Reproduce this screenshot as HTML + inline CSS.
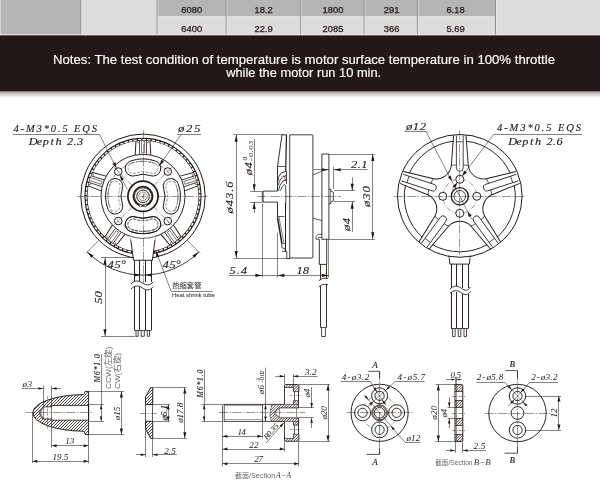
<!DOCTYPE html>
<html lang="en"><head><meta charset="utf-8"><title>Motor drawing</title>
<style>
html,body{margin:0;padding:0;background:#fff;}
body{width:600px;height:484px;overflow:hidden;position:relative;}
svg{position:absolute;left:0;top:0;display:block;will-change:transform;}
svg .ah{fill:#231815;stroke:none;}
svg text{stroke:none;fill:#231815;}
svg .d{font-family:"Liberation Serif",serif;font-style:italic;stroke:#231815;stroke-width:0.12px;}
svg .ds{stroke:none;}
svg .cg{font-family:"Liberation Sans","Noto Sans CJK SC",sans-serif;fill:#6a6766;}
svg .sb{font-family:"Liberation Sans",sans-serif;stroke:#231815;stroke-width:0.25px;}
svg .sw{font-family:"Liberation Sans",sans-serif;fill:#fff;stroke:#fff;stroke-width:0.15px;}
svg .dl{font-family:"Liberation Serif",serif;font-style:italic;fill:#3e3a39;}
svg .s{font-family:"Liberation Sans","Noto Sans CJK SC",sans-serif;}
svg .c{font-family:"Liberation Sans","Noto Sans CJK SC",sans-serif;fill:#3e3a39;stroke:#3e3a39;stroke-width:0.08px;}
</style></head><body>
<svg width="600" height="484" viewBox="0 0 600 484">
<defs>
<linearGradient id="shadow" x1="0" y1="0" x2="0" y2="1"><stop offset="0" stop-color="#8f8683"/><stop offset="0.35" stop-color="#c9c4c2"/><stop offset="1" stop-color="#ffffff"/></linearGradient>
<clipPath id="cnut"><path clip-rule="evenodd" d="M83.1 394.6 Q84.6 394.2 85.2 391.4 L88.6 391.4 L88.6 434.6 L85.2 434.6 Q84.6 431.6 83.1 431.2 A51.6 18.3 0 0 1 32.8 412.9 A51.6 18.3 0 0 1 83.1 394.6 Z M88.6 405.4 L51.8 405.4 L51.8 406.8 L43.2 406.8 Q39.6 409.8 39.6 412.9 Q39.6 416 43.2 419 L51.8 419 L51.8 420.2 L88.6 420.2 Z"/></clipPath>
<clipPath id="cwash"><path d="M150.6 387.6 L152.7 387.6 L152.7 404.5 L145.5 404.5 L145.5 397 Z M150.6 438.3 L152.7 438.3 L152.7 421.3 L145.5 421.3 L145.5 428.9 Z"/></clipPath>
<clipPath id="cadp"><path d="M284.5 385.7 Q284.5 384.5 285.7 384.5 L297.7 384.5 Q298.9 384.5 298.9 385.7 L298.9 387.4 L284.5 387.4 Z M293.5 387.4 L298.9 387.4 L298.9 391.6 L293.5 391.6 Z M293.5 400.7 L298.9 400.7 L298.9 404.4 L293.5 404.4 Z M284.5 440.1 Q284.5 441.3 285.7 441.3 L297.7 441.3 Q298.9 441.3 298.9 440.1 L298.9 438.4 L284.5 438.4 Z M293.5 438.4 L298.9 438.4 L298.9 434.2 L293.5 434.2 Z M293.5 425.1 L298.9 425.1 L298.9 421.4 L293.5 421.4 Z M271.5 404.4 L298.9 404.4 L298.9 407.9 L279.8 407.9 L274.4 412.9 L279.8 417.9 L298.9 417.9 L298.9 421.4 L271.5 421.4 Q269.2 416.9 270 412.9 Q270.8 408.9 271.5 404.4 Z"/></clipPath>
<clipPath id="csecb"><path d="M455 384.6 L462.8 384.6 L462.8 391.5 L455 391.5 Z M455 434.5 L462.8 434.5 L462.8 441.4 L455 441.4 Z M455 400.6 L462.8 400.6 L462.8 407.3 L455 407.3 Z M455 418.7 L462.8 418.7 L462.8 425.4 L455 425.4 Z"/></clipPath>
</defs>
<g fill="none" stroke="#231815" stroke-width="0.55">
<!-- header -->
<g stroke="none">
<rect x="0" y="0" width="600" height="36" fill="#dcdcdc"/>
<rect x="0" y="0" width="81" height="36" fill="#b5b5b6"/>
<rect x="157" y="0" width="338.5" height="16.7" fill="#b5b5b6"/>
<rect x="157" y="16.2" width="338.5" height="1" fill="#e6e6e6"/>
<rect x="80.4" y="0" width="1" height="36" fill="#8e8e8f"/>
<rect x="81.4" y="0" width="0.8" height="36" fill="#e9e9e9" fill-opacity="0.7"/>
<rect x="156.6" y="0" width="1" height="36" fill="#8e8e8f"/>
<rect x="157.6" y="0" width="0.8" height="36" fill="#e9e9e9" fill-opacity="0.7"/>
<rect x="225.7" y="0" width="1" height="36" fill="#8e8e8f"/>
<rect x="226.7" y="0" width="0.8" height="36" fill="#e9e9e9" fill-opacity="0.7"/>
<rect x="300.2" y="0" width="1" height="36" fill="#8e8e8f"/>
<rect x="301.2" y="0" width="0.8" height="36" fill="#e9e9e9" fill-opacity="0.7"/>
<rect x="363.6" y="0" width="1" height="36" fill="#8e8e8f"/>
<rect x="364.6" y="0" width="0.8" height="36" fill="#e9e9e9" fill-opacity="0.7"/>
<rect x="416.9" y="0" width="1" height="36" fill="#8e8e8f"/>
<rect x="417.9" y="0" width="0.8" height="36" fill="#e9e9e9" fill-opacity="0.7"/>
<rect x="495" y="0" width="1" height="36" fill="#8e8e8f"/>
<rect x="496" y="0" width="0.8" height="36" fill="#e9e9e9" fill-opacity="0.7"/>
<rect x="0" y="0" width="0.8" height="36" fill="#e0e0e0"/>
<rect x="0" y="34.3" width="600" height="1.2" fill="#ececec"/>
<rect x="0" y="91" width="600" height="7" fill="url(#shadow)"/>
<rect x="0" y="35.4" width="600" height="55.8" fill="#231815"/>
</g>
<text class="sb" x="191.7" y="13.3" font-size="9.4" text-anchor="middle">6080</text>
<text class="sb" x="263.7" y="13.3" font-size="9.4" text-anchor="middle">18.2</text>
<text class="sb" x="333" y="13.3" font-size="9.4" text-anchor="middle">1800</text>
<text class="sb" x="391.7" y="13.3" font-size="9.4" text-anchor="middle">291</text>
<text class="sb" x="455.5" y="13.3" font-size="9.4" text-anchor="middle">6.18</text>
<text class="sb" x="191.7" y="31.7" font-size="9.4" text-anchor="middle">6400</text>
<text class="sb" x="263.7" y="31.7" font-size="9.4" text-anchor="middle">22.9</text>
<text class="sb" x="333" y="31.7" font-size="9.4" text-anchor="middle">2085</text>
<text class="sb" x="391.7" y="31.7" font-size="9.4" text-anchor="middle">366</text>
<text class="sb" x="455.5" y="31.7" font-size="9.4" text-anchor="middle">5.69</text>
<text class="sw" x="304" y="63.6" font-size="12.5" textLength="502" lengthAdjust="spacingAndGlyphs" text-anchor="middle">Notes: The test condition of temperature is motor surface temperature in 100% throttle</text>
<text class="sw" x="303.7" y="77.1" font-size="12.5" textLength="155" lengthAdjust="spacingAndGlyphs" text-anchor="middle">while the motor run 10 min.</text>
<!-- front_view -->
<circle cx="143" cy="196.3" r="62.2" stroke-width="1"/>
<circle cx="143" cy="196.3" r="57" stroke-width="3.1"/>
<circle cx="143" cy="196.3" r="56.8" stroke="#fff" stroke-width="1.3" stroke-dasharray="3.4 1.2"/>
<circle cx="143" cy="196.3" r="42" stroke-width="0.95"/>
<g transform="translate(143 196.3) rotate(0)">
<line x1="-7.8" y1="-41.4" x2="-7" y2="-55.4" stroke-width="0.95"/>
<line x1="-3.5" y1="-42" x2="-3.5" y2="-55.8" stroke-width="0.75"/>
<line x1="-1.5" y1="-43.5" x2="-1.5" y2="-55.8"/>
<line x1="-5.5" y1="-55.8" x2="-5.5" y2="-53.6" stroke-width="0.5"/>
<line x1="7.8" y1="-41.4" x2="7" y2="-55.4" stroke-width="0.95"/>
<line x1="3.5" y1="-42" x2="3.5" y2="-55.8" stroke-width="0.75"/>
<line x1="1.5" y1="-43.5" x2="1.5" y2="-55.8"/>
<line x1="5.5" y1="-55.8" x2="5.5" y2="-53.6" stroke-width="0.5"/>
<line x1="-1.5" y1="-43.5" x2="1.5" y2="-43.5" stroke-width="0.5"/>
<line x1="-5.2" y1="-53.5" x2="-3.4" y2="-53.5" stroke-width="0.5"/>
<line x1="5.2" y1="-53.5" x2="3.4" y2="-53.5" stroke-width="0.5"/>
</g>
<g transform="translate(143 196.3) rotate(72)">
<line x1="-7.8" y1="-41.4" x2="-7" y2="-55.4" stroke-width="0.95"/>
<line x1="-3.5" y1="-42" x2="-3.5" y2="-55.8" stroke-width="0.75"/>
<line x1="-1.5" y1="-43.5" x2="-1.5" y2="-55.8"/>
<line x1="-5.5" y1="-55.8" x2="-5.5" y2="-53.6" stroke-width="0.5"/>
<line x1="7.8" y1="-41.4" x2="7" y2="-55.4" stroke-width="0.95"/>
<line x1="3.5" y1="-42" x2="3.5" y2="-55.8" stroke-width="0.75"/>
<line x1="1.5" y1="-43.5" x2="1.5" y2="-55.8"/>
<line x1="5.5" y1="-55.8" x2="5.5" y2="-53.6" stroke-width="0.5"/>
<line x1="-1.5" y1="-43.5" x2="1.5" y2="-43.5" stroke-width="0.5"/>
<line x1="-5.2" y1="-53.5" x2="-3.4" y2="-53.5" stroke-width="0.5"/>
<line x1="5.2" y1="-53.5" x2="3.4" y2="-53.5" stroke-width="0.5"/>
</g>
<g transform="translate(143 196.3) rotate(144)">
<line x1="-7.8" y1="-41.4" x2="-7" y2="-55.4" stroke-width="0.95"/>
<line x1="-3.5" y1="-42" x2="-3.5" y2="-55.8" stroke-width="0.75"/>
<line x1="-1.5" y1="-43.5" x2="-1.5" y2="-55.8"/>
<line x1="-5.5" y1="-55.8" x2="-5.5" y2="-53.6" stroke-width="0.5"/>
<line x1="7.8" y1="-41.4" x2="7" y2="-55.4" stroke-width="0.95"/>
<line x1="3.5" y1="-42" x2="3.5" y2="-55.8" stroke-width="0.75"/>
<line x1="1.5" y1="-43.5" x2="1.5" y2="-55.8"/>
<line x1="5.5" y1="-55.8" x2="5.5" y2="-53.6" stroke-width="0.5"/>
<line x1="-1.5" y1="-43.5" x2="1.5" y2="-43.5" stroke-width="0.5"/>
<line x1="-5.2" y1="-53.5" x2="-3.4" y2="-53.5" stroke-width="0.5"/>
<line x1="5.2" y1="-53.5" x2="3.4" y2="-53.5" stroke-width="0.5"/>
</g>
<g transform="translate(143 196.3) rotate(216)">
<line x1="-7.8" y1="-41.4" x2="-7" y2="-55.4" stroke-width="0.95"/>
<line x1="-3.5" y1="-42" x2="-3.5" y2="-55.8" stroke-width="0.75"/>
<line x1="-1.5" y1="-43.5" x2="-1.5" y2="-55.8"/>
<line x1="-5.5" y1="-55.8" x2="-5.5" y2="-53.6" stroke-width="0.5"/>
<line x1="7.8" y1="-41.4" x2="7" y2="-55.4" stroke-width="0.95"/>
<line x1="3.5" y1="-42" x2="3.5" y2="-55.8" stroke-width="0.75"/>
<line x1="1.5" y1="-43.5" x2="1.5" y2="-55.8"/>
<line x1="5.5" y1="-55.8" x2="5.5" y2="-53.6" stroke-width="0.5"/>
<line x1="-1.5" y1="-43.5" x2="1.5" y2="-43.5" stroke-width="0.5"/>
<line x1="-5.2" y1="-53.5" x2="-3.4" y2="-53.5" stroke-width="0.5"/>
<line x1="5.2" y1="-53.5" x2="3.4" y2="-53.5" stroke-width="0.5"/>
</g>
<g transform="translate(143 196.3) rotate(288)">
<line x1="-7.8" y1="-41.4" x2="-7" y2="-55.4" stroke-width="0.95"/>
<line x1="-3.5" y1="-42" x2="-3.5" y2="-55.8" stroke-width="0.75"/>
<line x1="-1.5" y1="-43.5" x2="-1.5" y2="-55.8"/>
<line x1="-5.5" y1="-55.8" x2="-5.5" y2="-53.6" stroke-width="0.5"/>
<line x1="7.8" y1="-41.4" x2="7" y2="-55.4" stroke-width="0.95"/>
<line x1="3.5" y1="-42" x2="3.5" y2="-55.8" stroke-width="0.75"/>
<line x1="1.5" y1="-43.5" x2="1.5" y2="-55.8"/>
<line x1="5.5" y1="-55.8" x2="5.5" y2="-53.6" stroke-width="0.5"/>
<line x1="-1.5" y1="-43.5" x2="1.5" y2="-43.5" stroke-width="0.5"/>
<line x1="-5.2" y1="-53.5" x2="-3.4" y2="-53.5" stroke-width="0.5"/>
<line x1="5.2" y1="-53.5" x2="3.4" y2="-53.5" stroke-width="0.5"/>
</g>
<path transform="translate(143 196.3) rotate(0)" d="M-12.67 -35.19A37.4 37.4 0 0 1 12.67 -35.19A7.7 7.7 0 0 1 7.45 -20.7A22 22 0 0 0 -7.45 -20.7A7.7 7.7 0 0 1 -12.67 -35.19Z" stroke-width="1"/>
<path transform="translate(143 196.3) rotate(0)" d="M-11.44 -33.08A35 35 0 0 1 11.44 -33.08A5.3 5.3 0 0 1 7.98 -23.06A24.4 24.4 0 0 0 -7.98 -23.06A5.3 5.3 0 0 1 -11.44 -33.08Z" stroke-width="0.45" stroke-dasharray="3 1.2"/>
<path transform="translate(143 196.3) rotate(90)" d="M-12.67 -35.19A37.4 37.4 0 0 1 12.67 -35.19A7.7 7.7 0 0 1 7.45 -20.7A22 22 0 0 0 -7.45 -20.7A7.7 7.7 0 0 1 -12.67 -35.19Z" stroke-width="1"/>
<path transform="translate(143 196.3) rotate(90)" d="M-11.44 -33.08A35 35 0 0 1 11.44 -33.08A5.3 5.3 0 0 1 7.98 -23.06A24.4 24.4 0 0 0 -7.98 -23.06A5.3 5.3 0 0 1 -11.44 -33.08Z" stroke-width="0.45" stroke-dasharray="3 1.2"/>
<path transform="translate(143 196.3) rotate(180)" d="M-12.67 -35.19A37.4 37.4 0 0 1 12.67 -35.19A7.7 7.7 0 0 1 7.45 -20.7A22 22 0 0 0 -7.45 -20.7A7.7 7.7 0 0 1 -12.67 -35.19Z" stroke-width="1"/>
<path transform="translate(143 196.3) rotate(180)" d="M-11.44 -33.08A35 35 0 0 1 11.44 -33.08A5.3 5.3 0 0 1 7.98 -23.06A24.4 24.4 0 0 0 -7.98 -23.06A5.3 5.3 0 0 1 -11.44 -33.08Z" stroke-width="0.45" stroke-dasharray="3 1.2"/>
<path transform="translate(143 196.3) rotate(270)" d="M-12.67 -35.19A37.4 37.4 0 0 1 12.67 -35.19A7.7 7.7 0 0 1 7.45 -20.7A22 22 0 0 0 -7.45 -20.7A7.7 7.7 0 0 1 -12.67 -35.19Z" stroke-width="1"/>
<path transform="translate(143 196.3) rotate(270)" d="M-11.44 -33.08A35 35 0 0 1 11.44 -33.08A5.3 5.3 0 0 1 7.98 -23.06A24.4 24.4 0 0 0 -7.98 -23.06A5.3 5.3 0 0 1 -11.44 -33.08Z" stroke-width="0.45" stroke-dasharray="3 1.2"/>
<circle cx="143" cy="196.3" r="35" stroke-width="0.45" stroke-dasharray="6 1.5 1 1.5"/>
<circle cx="167.75" cy="221.05" r="3.8" stroke-width="1" fill="#fff"/>
<line x1="166.45" y1="219.15" x2="169.05" y2="222.95" stroke-width="0.5"/>
<circle cx="118.25" cy="221.05" r="3.8" stroke-width="1" fill="#fff"/>
<line x1="116.95" y1="219.15" x2="119.55" y2="222.95" stroke-width="0.5"/>
<circle cx="118.25" cy="171.55" r="3.8" stroke-width="1" fill="#fff"/>
<line x1="116.95" y1="169.65" x2="119.55" y2="173.45" stroke-width="0.5"/>
<circle cx="167.75" cy="171.55" r="3.8" stroke-width="1" fill="#fff"/>
<line x1="166.45" y1="169.65" x2="169.05" y2="173.45" stroke-width="0.5"/>
<line x1="77" y1="196.5" x2="209" y2="196.5" stroke-width="0.45" stroke-dasharray="9 1.5 1.5 1.5"/>
<line x1="143.5" y1="130.3" x2="143.5" y2="262.3" stroke-width="0.45" stroke-dasharray="9 1.5 1.5 1.5"/>
<line x1="153.61" y1="206.91" x2="171.99" y2="225.29" stroke-width="0.45" stroke-dasharray="6 1.5 1 1.5"/>
<line x1="132.39" y1="206.91" x2="114.01" y2="225.29" stroke-width="0.45" stroke-dasharray="6 1.5 1 1.5"/>
<line x1="132.39" y1="185.69" x2="114.01" y2="167.31" stroke-width="0.45" stroke-dasharray="6 1.5 1 1.5"/>
<line x1="153.61" y1="185.69" x2="171.99" y2="167.31" stroke-width="0.45" stroke-dasharray="6 1.5 1 1.5"/>
<circle cx="143" cy="196.3" r="15.1" stroke-width="1.7" fill="#fff"/>
<circle cx="143" cy="196.3" r="9.3" stroke-width="2.4"/>
<circle cx="143" cy="196.3" r="8.5" stroke="#fff" stroke-width="0.7" stroke-dasharray="0.7 0.9"/>
<circle cx="143" cy="196.3" r="6.3" stroke-width="0.95"/>
<circle cx="143" cy="196.3" r="4.3" stroke-width="0.5"/>
<line x1="140" y1="196.5" x2="146" y2="196.5" stroke-width="0.4"/>
<line x1="143.5" y1="193.3" x2="143.5" y2="199.3" stroke-width="0.4"/>
<line x1="141.8" y1="198.5" x2="144.8" y2="193.7" stroke-width="0.5"/>
<circle cx="140.5" cy="205.7" r="1.25" fill="#fff"/>
<circle cx="145.5" cy="205.7" r="1.25" fill="#fff"/>
<polyline points="130.6,238.2 133.5,260.3 152.4,260.3 155.2,238.2" stroke-width="0.95" fill="#fff"/>
<rect x="130.6" y="234" width="24.6" height="6" fill="#fff" stroke="none"/>
<path d="M155.28 236.46A42 42 0 0 1 130.72 236.46" stroke-width="0.7"/>
<path transform="translate(143 196.3) rotate(180)" d="M-12.67 -35.19A37.4 37.4 0 0 1 12.67 -35.19A7.7 7.7 0 0 1 7.45 -20.7A22 22 0 0 0 -7.45 -20.7A7.7 7.7 0 0 1 -12.67 -35.19Z" stroke-width="1"/>
<path transform="translate(143 196.3) rotate(180)" d="M-11.54 -33.25A35.2 35.2 0 0 1 11.54 -33.25A5.5 5.5 0 0 1 7.93 -22.86A24.2 24.2 0 0 0 -7.93 -22.86A5.5 5.5 0 0 1 -11.54 -33.25Z" stroke-width="0.45" stroke-dasharray="3 1.2"/>
<line x1="143.5" y1="238" x2="143.5" y2="283" stroke-width="0.45" stroke-dasharray="9 1.5 1.5 1.5"/>
<!-- front_wires -->
<line x1="134.5" y1="260.3" x2="134.5" y2="282" stroke-width="0.95"/>
<line x1="134.5" y1="287" x2="134.5" y2="330.3" stroke-width="0.95"/>
<line x1="139.5" y1="260.3" x2="139.5" y2="282" stroke-width="0.95"/>
<line x1="139.5" y1="287" x2="139.5" y2="330.3" stroke-width="0.95"/>
<line x1="145.5" y1="260.3" x2="145.5" y2="282" stroke-width="0.95"/>
<line x1="145.5" y1="287" x2="145.5" y2="330.3" stroke-width="0.95"/>
<line x1="151.5" y1="260.3" x2="151.5" y2="282" stroke-width="0.95"/>
<line x1="151.5" y1="287" x2="151.5" y2="330.3" stroke-width="0.95"/>
<path d="M131 284 C134.5 280.2 138.5 280.2 142.5 283 S149.5 285.8 153.4 281.8 L153.4 286.8 C149.5 291.2 146.5 291.2 142.5 288 S134.5 285.2 131 289 Z" fill="#fff" stroke="none"/>
<path d="M131 284 C134.5 280.2 138.5 280.2 142.5 283 S149.5 285.8 153.4 281.8" stroke-width="0.85"/>
<path d="M131 289 C134.5 285.2 138.5 285.2 142.5 288 S149.5 290.8 153.4 286.8" stroke-width="0.85"/>
<line x1="134.5" y1="330.5" x2="139.7" y2="330.5" stroke-width="0.8"/>
<polyline points="136,330.3 136,336.3 138.2,336.3 138.2,330.3" stroke-width="0.8"/>
<line x1="139.7" y1="330.5" x2="145.8" y2="330.5" stroke-width="0.8"/>
<polyline points="141.2,330.3 141.2,336.3 144.3,336.3 144.3,330.3" stroke-width="0.8"/>
<line x1="145.8" y1="330.5" x2="151" y2="330.5" stroke-width="0.8"/>
<polyline points="147.3,330.3 147.3,336.3 149.5,336.3 149.5,330.3" stroke-width="0.8"/>
<!-- front_dims -->
<text class="d" x="13.5" y="131.6" font-size="10.5" textLength="83.5" lengthAdjust="spacing">4-M3*0.5 EQS</text>
<line x1="12.5" y1="134.5" x2="99.5" y2="134.5"/>
<text class="d" transform="translate(30 144.6) scale(1.2 1)" x="2.55 7.87 13.18 18.5 23.81 28.59 33.38 37.5 41.62" text-anchor="middle" font-size="10.2">Depth 2.3</text>
<line x1="99.5" y1="134.6" x2="116.44" y2="168.02"/>
<polygon class="ah" points="116.44,168.02 112.4,163.79 115.41,162.26"/>
<polygon class="ah" points="119.96,174.98 124,179.21 120.99,180.74"/>
<line x1="119.96" y1="174.98" x2="127.24" y2="189.34"/>
<text class="d" transform="translate(178 131.6) scale(1.2 1)" x="2.62 9.38 16.12" text-anchor="middle" font-size="10.5">ø25</text>
<line x1="177" y1="134.5" x2="201" y2="134.5"/>
<line x1="181" y1="134.6" x2="159.43" y2="165.4"/>
<polygon class="ah" points="159.43,165.4 161.26,159.84 164.03,161.78"/>
<path d="M198.72 252.02A78.8 78.8 0 0 1 87.28 252.02" stroke-width="0.85"/>
<line x1="187.19" y1="240.49" x2="200.13" y2="253.43"/>
<line x1="98.81" y1="240.49" x2="85.87" y2="253.43"/>
<polygon class="ah" points="198.72,252.02 194.56,257.87 192.47,255.54"/>
<polygon class="ah" points="87.28,252.02 93.53,255.54 91.44,257.87"/>
<polygon class="ah" points="140.6,275 134.6,276.5 134.6,273.5"/>
<polygon class="ah" points="145.4,275 151.4,273.5 151.4,276.5"/>
<text class="d" transform="translate(107.5 268.3) scale(1.2 1)" x="2.62 8.5 13.21" text-anchor="middle" font-size="10.5">45°</text>
<text class="d" transform="translate(162.5 268.3) scale(1.2 1)" x="2.62 8.5 13.21" text-anchor="middle" font-size="10.5">45°</text>
<line x1="101" y1="257.5" x2="134" y2="257.5"/>
<line x1="101" y1="336.5" x2="135.5" y2="336.5"/>
<line x1="105.5" y1="257.7" x2="105.5" y2="336.3"/>
<polygon class="ah" points="105,257.7 106.56,264.7 103.44,264.7"/>
<polygon class="ah" points="105,336.3 103.44,329.3 106.56,329.3"/>
<text class="d" transform="translate(102.3 297.5) rotate(-90) scale(1.2 1)" x="-2.58 2.58" text-anchor="middle" font-size="10.5">50</text>
<line x1="155.6" y1="250" x2="171" y2="291"/>
<line x1="171" y1="291.5" x2="212.6" y2="291.5"/>
<polygon class="ah" points="155.6,250 159.25,256.17 156.28,257.14"/>
<text class="c" x="172.2" y="288.3" font-size="7.2" textLength="29.3" lengthAdjust="spacingAndGlyphs">热缩套管</text>
<text class="c" x="172" y="297.3" font-size="5.9" textLength="42.8" lengthAdjust="spacingAndGlyphs">Heat shrink tube</text>
<!-- side_view -->
<path d="M289.7 134.8 L311.9 134.8 Q312.9 134.8 312.9 135.8 L312.9 257 Q312.9 258 311.9 258 L289.7 258 Z" stroke-width="0.85"/>
<polyline points="286.6,134.8 282,134.8 277.5,166.3 277.5,191" stroke-width="0.9"/>
<line x1="286.5" y1="134.8" x2="285.7" y2="171.4" stroke-width="1.2"/>
<line x1="277.5" y1="166.5" x2="285.6" y2="166.5" stroke-width="0.7"/>
<polyline points="286.3,171.4 281.4,172.8 278.2,177.6 278.2,181" stroke-width="0.85"/>
<polyline points="286.3,175.6 282.6,176.6 279.4,181.4 278.4,185" stroke-width="0.8"/>
<polyline points="286.3,175.6 284.8,176.2 284.8,179.2 286.3,179.8" stroke-width="0.7"/>
<polyline points="286.3,180 283,181 280,185.2 278.4,190.6" stroke-width="0.85"/>
<polyline points="280.2,190.8 282.6,186.2 284.6,184.4 285.6,186 286,196 285.6,210" stroke-width="0.8"/>
<line x1="286.5" y1="171.4" x2="286.5" y2="184" stroke-width="0.8"/>
<line x1="277.5" y1="202.2" x2="277.5" y2="217.3" stroke-width="0.9"/>
<line x1="277.5" y1="216.5" x2="284.4" y2="216.5" stroke-width="0.7"/>
<line x1="277.5" y1="217.3" x2="281.8" y2="243" stroke-width="1.5"/>
<line x1="279" y1="217" x2="283.8" y2="242.5"/>
<polyline points="281.8,243 281.8,247.6 285.4,249.2 285.4,251.3" stroke-width="0.8"/>
<polyline points="281.8,243.6 285.4,243.6" stroke-width="0.7"/>
<line x1="285.5" y1="203" x2="285.5" y2="251.3" stroke-width="1"/>
<polyline points="282,251.3 286.8,251.3 286.8,258" stroke-width="0.8"/>
<line x1="286.8" y1="258.5" x2="289.7" y2="258.5" stroke-width="0.8"/>
<polyline points="277.4,191.1 263.2,191.1 262.3,192 262.3,201.2 263.2,202.1 277.4,202.1" stroke-width="0.85" fill="#fff"/>
<line x1="263.5" y1="191.1" x2="263.5" y2="202.1" stroke-width="0.5"/>
<polygon points="321.9,154 328.9,154 328.9,239.3 321.9,239.3" stroke-width="0.85"/>
<polyline points="312.9,174.9 321.9,171.2" stroke-width="0.7"/>
<polyline points="312.9,218.2 321.9,220.7" stroke-width="0.7"/>
<polyline points="321.9,234.2 318.4,234.2 316,236.4 316,239.3 318.6,239.3 318.6,237.4 321.9,237.4" stroke-width="0.7"/>
<polyline points="328.9,189.2 330.8,189.2 330.8,191 333.4,192.2 333.4,200.8 330.8,202 330.8,203.8 328.9,203.8" stroke-width="0.8"/>
<line x1="330.5" y1="191" x2="330.5" y2="202" stroke-width="0.5"/>
<line x1="257" y1="196.5" x2="341" y2="196.5" stroke-width="0.45" stroke-dasharray="9 1.5 1.5 1.5"/>
<!-- side_wire -->
<polyline points="319.3,239.3 319.3,264.4 326.7,264.4 326.7,239.3" stroke-width="0.9"/>
<line x1="320.5" y1="264.4" x2="320.5" y2="279.6" stroke-width="0.9"/>
<line x1="326.5" y1="264.4" x2="326.5" y2="278.2" stroke-width="0.9"/>
<path d="M318.8 280.6Q322.4 277 328 278.4" stroke-width="0.85"/>
<path d="M318.8 286.8Q322.4 283.2 328 284.4" stroke-width="0.85"/>
<line x1="320.5" y1="286" x2="320.5" y2="327.5" stroke-width="0.9"/>
<line x1="326.5" y1="284.6" x2="326.5" y2="327.5" stroke-width="0.9"/>
<line x1="320.4" y1="327.5" x2="326.5" y2="327.5" stroke-width="0.7"/>
<polyline points="321.6,327.5 321.6,336.5 325.4,336.5 325.4,327.5" stroke-width="0.8"/>
<!-- side_dims -->
<line x1="233.5" y1="134.5" x2="282.5" y2="134.5"/>
<line x1="233.5" y1="258.5" x2="289.7" y2="258.5"/>
<line x1="236.5" y1="134.8" x2="236.5" y2="258"/>
<polygon class="ah" points="236.2,134.8 237.76,141.8 234.64,141.8"/>
<polygon class="ah" points="236.2,258 234.64,251 237.76,251"/>
<text class="d" transform="translate(233.4 197.5) rotate(-90) scale(1.2 1)" x="-10.71 -4.68 1.36 6.03 10.71" text-anchor="middle" font-size="10.5">ø43.6</text>
<line x1="250" y1="191.5" x2="262.4" y2="191.5"/>
<line x1="250" y1="202.5" x2="262.4" y2="202.5"/>
<line x1="254.5" y1="139.2" x2="254.5" y2="191.2"/>
<line x1="254.5" y1="202" x2="254.5" y2="213"/>
<polygon class="ah" points="254.2,191.2 252.64,184.2 255.76,184.2"/>
<polygon class="ah" points="254.2,202 255.76,209 252.64,209"/>
<text class="d" transform="translate(251.8 175.2) rotate(-90) scale(1.2 1)" x="2.62 8.21" text-anchor="middle" font-size="10.5">ø4</text>
<text class="d ds" font-size="7" transform="translate(247.2 160.6) rotate(-90)">0</text>
<text class="d ds" transform="translate(252.8 161.8) rotate(-90) scale(1.2 1)" x="1.75 5.69 8.75 11.81 15.75" text-anchor="middle" font-size="7">-0.03</text>
<line x1="313.5" y1="169.5" x2="328.9" y2="169.5"/>
<line x1="333.6" y1="169.5" x2="367.5" y2="169.5"/>
<polygon class="ah" points="328.9,169.8 321.9,171.36 321.9,168.24"/>
<polygon class="ah" points="333.6,169.8 340.6,168.24 340.6,171.36"/>
<line x1="333.5" y1="166.8" x2="333.5" y2="189"/>
<text class="d" transform="translate(351 168.4) scale(1.2 1)" x="2.62 6.88 11.12" text-anchor="middle" font-size="10.5">2.1</text>
<line x1="328.9" y1="154.5" x2="374.8" y2="154.5"/>
<line x1="328.9" y1="239.5" x2="374.8" y2="239.5"/>
<line x1="372.5" y1="154" x2="372.5" y2="239.3"/>
<polygon class="ah" points="372.8,154 374.36,161 371.24,161"/>
<polygon class="ah" points="372.8,239.3 371.24,232.3 374.36,232.3"/>
<text class="d" transform="translate(370.2 196.6) rotate(-90) scale(1.2 1)" x="-6.12 0 6.12" text-anchor="middle" font-size="10.5">ø30</text>
<line x1="334" y1="190.5" x2="355" y2="190.5"/>
<line x1="334" y1="201.5" x2="355" y2="201.5"/>
<line x1="352.5" y1="177.3" x2="352.5" y2="190.8"/>
<line x1="352.5" y1="201.8" x2="352.5" y2="231.8"/>
<polygon class="ah" points="352.2,190.8 350.64,183.8 353.76,183.8"/>
<polygon class="ah" points="352.2,201.8 353.76,208.8 350.64,208.8"/>
<text class="d" transform="translate(349.6 224.5) rotate(-90) scale(1.2 1)" x="-2.79 2.79" text-anchor="middle" font-size="10.5">ø4</text>
<line x1="262.5" y1="203.6" x2="262.5" y2="277.6"/>
<line x1="277.5" y1="232.6" x2="277.5" y2="277.6"/>
<line x1="328.5" y1="239.4" x2="328.5" y2="277.6" stroke-width="0.5"/>
<line x1="228.5" y1="275.5" x2="262.4" y2="275.5"/>
<polygon class="ah" points="262.4,275.4 255.4,276.96 255.4,273.84"/>
<line x1="262.4" y1="275.5" x2="277.4" y2="275.5"/>
<line x1="277.4" y1="275.5" x2="328.9" y2="275.5"/>
<polygon class="ah" points="277.4,275.4 284.4,273.84 284.4,276.96"/>
<polygon class="ah" points="328.9,275.4 321.9,276.96 321.9,273.84"/>
<text class="d" transform="translate(229.5 274) scale(1.2 1)" x="2.62 7.29 11.96" text-anchor="middle" font-size="10.5">5.4</text>
<text class="d" transform="translate(296.5 274) scale(1.2 1)" x="2.62 7.79" text-anchor="middle" font-size="10.5">18</text>
<!-- back_view -->
<ellipse cx="459.8" cy="195.9" rx="62.3" ry="61.4" stroke-width="1"/>
<path d="M466 141.15A55.5 55.5 0 0 1 510.34 173.36" stroke-width="0.95"/>
<path d="M514.17 185.15A55.5 55.5 0 0 1 497.23 237.28" stroke-width="0.95"/>
<path d="M487.2 244.56A55.5 55.5 0 0 1 432.4 244.56" stroke-width="0.95"/>
<path d="M422.37 237.28A55.5 55.5 0 0 1 405.43 185.15" stroke-width="0.95"/>
<path d="M409.26 173.36A55.5 55.5 0 0 1 453.6 141.15" stroke-width="0.95"/>
<g transform="translate(459.8 196.3) rotate(0)">
<line x1="-8.5" y1="-30.5" x2="-6.2" y2="-60.99" stroke-width="0.95"/>
<line x1="8.5" y1="-30.5" x2="6.2" y2="-60.99" stroke-width="0.95"/>
<path d="M-3.4 -60.6L-3.4 -28.4A3.4 3.4 0 0 0 3.4 -28.4L3.4 -60.6" stroke-width="0.8"/>
<line x1="-3.4" y1="-54.5" x2="3.4" y2="-54.5" stroke-width="0.7"/>
<path d="M-8.5 -30.5Q-6 -31.6 -3.4 -31.3" stroke-width="0.7"/>
<path d="M8.5 -30.5Q6 -31.6 3.4 -31.3" stroke-width="0.7"/>
<path d="M8.5 -30.5A15.4 15.4 0 0 0 26.38 -17.51" stroke-width="0.95"/>
</g>
<g transform="translate(459.8 196.3) rotate(72)">
<line x1="-8.5" y1="-30.5" x2="-6.2" y2="-60.99" stroke-width="0.95"/>
<line x1="8.5" y1="-30.5" x2="6.2" y2="-60.99" stroke-width="0.95"/>
<path d="M-3.4 -60.6L-3.4 -28.4A3.4 3.4 0 0 0 3.4 -28.4L3.4 -60.6" stroke-width="0.8"/>
<line x1="-3.4" y1="-54.5" x2="3.4" y2="-54.5" stroke-width="0.7"/>
<path d="M-8.5 -30.5Q-6 -31.6 -3.4 -31.3" stroke-width="0.7"/>
<path d="M8.5 -30.5Q6 -31.6 3.4 -31.3" stroke-width="0.7"/>
<path d="M8.5 -30.5A15.4 15.4 0 0 0 26.38 -17.51" stroke-width="0.95"/>
</g>
<g transform="translate(459.8 196.3) rotate(144)">
<line x1="-8.5" y1="-30.5" x2="-6.2" y2="-60.99" stroke-width="0.95"/>
<line x1="8.5" y1="-30.5" x2="6.2" y2="-60.99" stroke-width="0.95"/>
<path d="M-3.4 -60.6L-3.4 -28.4A3.4 3.4 0 0 0 3.4 -28.4L3.4 -60.6" stroke-width="0.8"/>
<line x1="-3.4" y1="-54.5" x2="3.4" y2="-54.5" stroke-width="0.7"/>
<path d="M-8.5 -30.5Q-6 -31.6 -3.4 -31.3" stroke-width="0.7"/>
<path d="M8.5 -30.5Q6 -31.6 3.4 -31.3" stroke-width="0.7"/>
<path d="M8.5 -30.5A15.4 15.4 0 0 0 26.38 -17.51" stroke-width="0.95"/>
</g>
<g transform="translate(459.8 196.3) rotate(216)">
<line x1="-8.5" y1="-30.5" x2="-6.2" y2="-60.99" stroke-width="0.95"/>
<line x1="8.5" y1="-30.5" x2="6.2" y2="-60.99" stroke-width="0.95"/>
<path d="M-3.4 -60.6L-3.4 -28.4A3.4 3.4 0 0 0 3.4 -28.4L3.4 -60.6" stroke-width="0.8"/>
<line x1="-3.4" y1="-54.5" x2="3.4" y2="-54.5" stroke-width="0.7"/>
<path d="M-8.5 -30.5Q-6 -31.6 -3.4 -31.3" stroke-width="0.7"/>
<path d="M8.5 -30.5Q6 -31.6 3.4 -31.3" stroke-width="0.7"/>
<path d="M8.5 -30.5A15.4 15.4 0 0 0 26.38 -17.51" stroke-width="0.95"/>
</g>
<g transform="translate(459.8 196.3) rotate(288)">
<line x1="-8.5" y1="-30.5" x2="-6.2" y2="-60.99" stroke-width="0.95"/>
<line x1="8.5" y1="-30.5" x2="6.2" y2="-60.99" stroke-width="0.95"/>
<path d="M-3.4 -60.6L-3.4 -28.4A3.4 3.4 0 0 0 3.4 -28.4L3.4 -60.6" stroke-width="0.8"/>
<line x1="-3.4" y1="-54.5" x2="3.4" y2="-54.5" stroke-width="0.7"/>
<path d="M-8.5 -30.5Q-6 -31.6 -3.4 -31.3" stroke-width="0.7"/>
<path d="M8.5 -30.5Q6 -31.6 3.4 -31.3" stroke-width="0.7"/>
<path d="M8.5 -30.5A15.4 15.4 0 0 0 26.38 -17.51" stroke-width="0.95"/>
</g>
<circle cx="459.8" cy="196.3" r="17" stroke-width="0.45" stroke-dasharray="5 1.5 1 1.5"/>
<circle cx="476.8" cy="196.3" r="4" stroke-width="0.95" fill="#fff"/>
<circle cx="459.8" cy="213.3" r="4" stroke-width="0.95" fill="#fff"/>
<circle cx="442.8" cy="196.3" r="4" stroke-width="0.95" fill="#fff"/>
<circle cx="459.8" cy="179.3" r="4" stroke-width="0.95" fill="#fff"/>
<circle cx="459.8" cy="196.3" r="8.6" stroke-width="1.3" fill="#fff"/>
<circle cx="459.8" cy="196.3" r="5.8" stroke-width="0.8"/>
<line x1="458.3" y1="192.8" x2="462.3" y2="200.8" stroke-width="0.4"/>
<line x1="393.8" y1="196.5" x2="525.8" y2="196.5" stroke-width="0.45" stroke-dasharray="9 1.5 1.5 1.5"/>
<line x1="459.5" y1="130.3" x2="459.5" y2="258.3" stroke-width="0.45" stroke-dasharray="9 1.5 1.5 1.5"/>
<!-- back_wires -->
<path d="M449.2 257.2L449.8 264.1L469.4 264.1L470 257.2" fill="#fff" stroke-width="0.95"/>
<rect x="449.7" y="255" width="19.8" height="3.4" fill="#fff" stroke="none"/>
<path d="M471.52 256.17A61.4 61.4 0 0 1 448.08 256.17" stroke-width="1"/>
<line x1="451.5" y1="264.1" x2="451.5" y2="288" stroke-width="0.95"/>
<line x1="451.5" y1="292" x2="451.5" y2="328.6" stroke-width="0.95"/>
<line x1="456.5" y1="264.1" x2="456.5" y2="288" stroke-width="0.95"/>
<line x1="456.5" y1="292" x2="456.5" y2="328.6" stroke-width="0.95"/>
<line x1="462.5" y1="264.1" x2="462.5" y2="288" stroke-width="0.95"/>
<line x1="462.5" y1="292" x2="462.5" y2="328.6" stroke-width="0.95"/>
<line x1="468.5" y1="264.1" x2="468.5" y2="288" stroke-width="0.95"/>
<line x1="468.5" y1="292" x2="468.5" y2="328.6" stroke-width="0.95"/>
<path d="M449.8 289.2 C453.3 285.4 457.3 285.4 461.3 288.2 S467.3 291 470.6 287 L470.6 291.4 C467.3 295.8 465.3 295.8 461.3 292.6 S453.3 289.8 449.8 293.6 Z" fill="#fff" stroke="none"/>
<path d="M449.8 289.2 C453.3 285.4 457.3 285.4 461.3 288.2 S467.3 291 470.6 287" stroke-width="0.85"/>
<path d="M449.8 293.6 C453.3 289.8 457.3 289.8 461.3 292.6 S467.3 295.4 470.6 291.4" stroke-width="0.85"/>
<line x1="451" y1="328.5" x2="456.7" y2="328.5" stroke-width="0.8"/>
<polyline points="452.6,328.6 452.6,336.6 455.1,336.6 455.1,328.6" stroke-width="0.8"/>
<line x1="456.7" y1="328.5" x2="462.4" y2="328.5" stroke-width="0.8"/>
<polyline points="458.3,328.6 458.3,336.6 460.8,336.6 460.8,328.6" stroke-width="0.8"/>
<line x1="462.4" y1="328.5" x2="468.1" y2="328.5" stroke-width="0.8"/>
<polyline points="464,328.6 464,336.6 466.5,336.6 466.5,328.6" stroke-width="0.8"/>
<!-- back_dims -->
<text class="d" transform="translate(406 129.7) scale(1.2 1)" x="2.62 8.33 14.04" text-anchor="middle" font-size="10.5">ø12</text>
<line x1="404.5" y1="131.5" x2="426" y2="131.5"/>
<line x1="426" y1="131.4" x2="451.95" y2="181.22"/>
<polygon class="ah" points="451.95,181.22 447.86,177.03 450.86,175.48"/>
<line x1="451.95" y1="181.22" x2="467.65" y2="211.38" stroke-width="0.45"/>
<polygon class="ah" points="467.65,211.38 471.74,215.57 468.74,217.12"/>
<line x1="467.65" y1="211.38" x2="471.81" y2="219.36"/>
<text class="d" x="497" y="131.2" font-size="10.5" textLength="84" lengthAdjust="spacing">4-M3*0.5 EQS</text>
<line x1="494" y1="134.5" x2="582" y2="134.5"/>
<text class="d" transform="translate(509.5 144.6) scale(1.2 1)" x="2.55 7.87 13.18 18.5 23.81 28.59 33.38 37.5 41.62" text-anchor="middle" font-size="10.2">Depth 2.6</text>
<line x1="494" y1="134" x2="462.21" y2="176.11"/>
<polygon class="ah" points="462.21,176.11 464.24,170.62 466.93,172.66"/>
<polygon class="ah" points="457.39,182.49 455.36,187.98 452.67,185.94"/>
<line x1="457.39" y1="182.49" x2="451.97" y2="189.68"/>
<!-- nut -->
<g clip-path="url(#cnut)" stroke-width="0.8">
<path d="M-16 436L30 390M-13 436L33 390M-10 436L36 390M-7 436L39 390M-4 436L42 390M-1 436L45 390M2 436L48 390M5 436L51 390M8 436L54 390M11 436L57 390M14 436L60 390M17 436L63 390M20 436L66 390M23 436L69 390M26 436L72 390M29 436L75 390M32 436L78 390M35 436L81 390M38 436L84 390M41 436L87 390M44 436L90 390M47 436L93 390M50 436L96 390M53 436L99 390M56 436L102 390M59 436L105 390M62 436L108 390M65 436L111 390M68 436L114 390M71 436L117 390M74 436L120 390M77 436L123 390M80 436L126 390M83 436L129 390M86 436L132 390M89 436L135 390"/>
</g>
<path d="M83.1 394.6 Q84.6 394.2 85.2 391.4 L88.6 391.4 L88.6 434.6 L85.2 434.6 Q84.6 431.6 83.1 431.2 A51.6 18.3 0 0 1 32.8 412.9 A51.6 18.3 0 0 1 83.1 394.6 Z" stroke-width="0.95"/>
<path d="M88.6 405.4 L51.8 405.4 L51.8 406.8 L43.2 406.8 Q39.6 409.8 39.6 412.9 Q39.6 416 43.2 419 L51.8 419 L51.8 420.2 L88.6 420.2 Z" stroke-width="0.85"/>
<polyline points="43.2,406.8 40.6,412.9 43.2,419"/>
<line x1="43.5" y1="406.8" x2="43.5" y2="419" stroke-width="0.5"/>
<line x1="51.5" y1="405.4" x2="51.5" y2="420.2"/>
<line x1="47.5" y1="396" x2="47.5" y2="430" stroke-width="0.4" stroke-dasharray="3 1.2"/>
<line x1="25.8" y1="412.5" x2="93.8" y2="412.5" stroke-width="0.45" stroke-dasharray="9 1.5 1.5 1.5"/>
<!-- nut_dims -->
<text class="d ds" transform="translate(22.6 387.3) scale(1.2 1)" x="1.9 5.93" text-anchor="middle" font-size="7.6">ø3</text>
<line x1="43.5" y1="385.4" x2="43.5" y2="406.8" stroke-width="0.55"/>
<line x1="51.5" y1="385.4" x2="51.5" y2="405.4" stroke-width="0.55"/>
<line x1="21.5" y1="388.5" x2="43.2" y2="388.5"/>
<line x1="51.8" y1="388.5" x2="61" y2="388.5"/>
<polygon class="ah" points="43.2,388.6 38.4,389.85 38.4,387.35"/>
<polygon class="ah" points="51.8,388.6 56.6,387.35 56.6,389.85"/>
<line x1="51.5" y1="420.2" x2="51.5" y2="447.6" stroke-width="0.55"/>
<line x1="88.5" y1="434.6" x2="88.5" y2="463.2" stroke-width="0.55"/>
<line x1="51.8" y1="445.5" x2="88.5" y2="445.5"/>
<polygon class="ah" points="51.8,445.8 56.6,444.24 56.6,447.36"/>
<polygon class="ah" points="88.5,445.8 83.7,447.36 83.7,444.24"/>
<text class="d ds" transform="translate(65.2 444.4) scale(1.2 1)" x="1.9 5.6" text-anchor="middle" font-size="7.6">13</text>
<line x1="32.5" y1="413" x2="32.5" y2="463.2" stroke-width="0.55"/>
<line x1="32.6" y1="461.5" x2="88.5" y2="461.5"/>
<polygon class="ah" points="32.6,461.2 37.4,459.64 37.4,462.76"/>
<polygon class="ah" points="88.5,461.2 83.7,462.76 83.7,459.64"/>
<text class="d ds" transform="translate(52.5 459.8) scale(1.2 1)" x="1.9 5.57 8.42 11.27" text-anchor="middle" font-size="7.6">19.5</text>
<line x1="88.6" y1="404.5" x2="103.9" y2="404.5" stroke-width="0.55"/>
<line x1="88.6" y1="421.5" x2="103.9" y2="421.5" stroke-width="0.55"/>
<line x1="101.5" y1="354.2" x2="101.5" y2="421.3"/>
<polygon class="ah" points="101.1,404.4 102.35,409.2 99.85,409.2"/>
<polygon class="ah" points="101.1,421.3 99.85,416.5 102.35,416.5"/>
<text class="d" font-size="7.6" textLength="28" lengthAdjust="spacing" transform="translate(99.5 382.3) rotate(-90)">M6*1.0</text>
<text class="cg" font-size="8" textLength="42.2" lengthAdjust="spacingAndGlyphs" transform="translate(111.4 389) rotate(-90)">CCW(左旋)</text>
<text class="cg" font-size="8" textLength="36" lengthAdjust="spacingAndGlyphs" transform="translate(120.4 389) rotate(-90)">CW(右旋)</text>
<line x1="88.1" y1="391.5" x2="124.1" y2="391.5" stroke-width="0.55"/>
<line x1="88.1" y1="434.5" x2="124.1" y2="434.5" stroke-width="0.55"/>
<line x1="121.5" y1="391.6" x2="121.5" y2="434.6"/>
<polygon class="ah" points="121.4,391.6 122.96,397.6 119.84,397.6"/>
<polygon class="ah" points="121.4,434.6 119.84,428.6 122.96,428.6"/>
<text class="d ds" transform="translate(120 413.5) rotate(-90) scale(1.2 1)" x="-3.77 0 3.77" text-anchor="middle" font-size="7.6">ø15</text>
<!-- washer -->
<g clip-path="url(#cwash)" stroke-width="0.8">
<path d="M90 440L144 386M93 440L147 386M96 440L150 386M99 440L153 386M102 440L156 386M105 440L159 386M108 440L162 386M111 440L165 386M114 440L168 386M117 440L171 386M120 440L174 386M123 440L177 386M126 440L180 386M129 440L183 386M132 440L186 386M135 440L189 386M138 440L192 386M141 440L195 386M144 440L198 386M147 440L201 386M150 440L204 386M153 440L207 386"/>
</g>
<path d="M150.6 387.6 L152.7 387.6 L152.7 404.5 L145.5 404.5 L145.5 397 Z" stroke-width="0.95"/>
<path d="M150.6 438.3 L152.7 438.3 L152.7 421.3 L145.5 421.3 L145.5 428.9 Z" stroke-width="0.95"/>
<line x1="145.5" y1="404.5" x2="145.5" y2="421.3" stroke-width="0.7"/>
<line x1="152.5" y1="404.5" x2="152.5" y2="421.3" stroke-width="0.7"/>
<line x1="140.3" y1="413.5" x2="158.2" y2="413.5" stroke-width="0.45" stroke-dasharray="6 1.5 1.5 1.5"/>
<!-- washer_dims -->
<line x1="152.7" y1="404.5" x2="170" y2="404.5" stroke-width="0.55"/>
<line x1="152.7" y1="421.5" x2="170" y2="421.5" stroke-width="0.55"/>
<line x1="168.5" y1="404.5" x2="168.5" y2="421.3"/>
<polygon class="ah" points="168.2,404.5 169.76,409.3 166.64,409.3"/>
<polygon class="ah" points="168.2,421.3 166.64,416.5 169.76,416.5"/>
<text class="d" transform="translate(167 412.8) rotate(-90) scale(1.2 1)" x="-4.56 -0.98 1.79 4.56" text-anchor="middle" font-size="7.6">ø6.1</text>
<line x1="152.7" y1="387.5" x2="186.6" y2="387.5" stroke-width="0.55"/>
<line x1="152.7" y1="438.5" x2="186.6" y2="438.5" stroke-width="0.55"/>
<line x1="184.5" y1="387.6" x2="184.5" y2="438.3"/>
<polygon class="ah" points="184.8,387.6 186.36,393.6 183.24,393.6"/>
<polygon class="ah" points="184.8,438.3 183.24,432.3 186.36,432.3"/>
<text class="d ds" transform="translate(183.2 412.8) rotate(-90) scale(1.2 1)" x="-6.43 -2.81 0.82 3.62 6.43" text-anchor="middle" font-size="7.6">ø17.8</text>
<line x1="145.5" y1="428.9" x2="145.5" y2="457" stroke-width="0.55"/>
<line x1="152.5" y1="438.3" x2="152.5" y2="457" stroke-width="0.55"/>
<line x1="136" y1="454.5" x2="145.5" y2="454.5"/>
<line x1="152.7" y1="454.5" x2="176.8" y2="454.5"/>
<polygon class="ah" points="145.5,454.8 140.7,456.05 140.7,453.55"/>
<polygon class="ah" points="152.7,454.8 157.5,453.55 157.5,456.05"/>
<text class="d ds" transform="translate(164.2 453.6) scale(1.2 1)" x="1.9 4.83 7.77" text-anchor="middle" font-size="7.6">2.5</text>
<!-- adapter -->
<polyline points="284.5,404.4 223.7,404.4 222.7,405.5 222.7,420.3 223.7,421.4 284.5,421.4" stroke-width="0.85"/>
<line x1="224.5" y1="404.4" x2="224.5" y2="421.4" stroke-width="0.5"/>
<line x1="262.5" y1="404.4" x2="262.5" y2="421.4" stroke-width="0.7"/>
<line x1="224.4" y1="405.5" x2="262.2" y2="405.5" stroke-width="0.4"/>
<line x1="224.4" y1="419.5" x2="262.2" y2="419.5" stroke-width="0.4"/>
<g clip-path="url(#cadp)" stroke-width="0.8">
<path d="M200 443L260 383M202.7 443L262.7 383M205.4 443L265.4 383M208.1 443L268.1 383M210.8 443L270.8 383M213.5 443L273.5 383M216.2 443L276.2 383M218.9 443L278.9 383M221.6 443L281.6 383M224.3 443L284.3 383M227 443L287 383M229.7 443L289.7 383M232.4 443L292.4 383M235.1 443L295.1 383M237.8 443L297.8 383M240.5 443L300.5 383M243.2 443L303.2 383M245.9 443L305.9 383M248.6 443L308.6 383M251.3 443L311.3 383M254 443L314 383M256.7 443L316.7 383M259.4 443L319.4 383M262.1 443L322.1 383M264.8 443L324.8 383M267.5 443L327.5 383M270.2 443L330.2 383M272.9 443L332.9 383M275.6 443L335.6 383M278.3 443L338.3 383M281 443L341 383M283.7 443L343.7 383M286.4 443L346.4 383M289.1 443L349.1 383M291.8 443L351.8 383M294.5 443L354.5 383M297.2 443L357.2 383M299.9 443L359.9 383"/>
</g>
<path d="M284.5 404.4 L284.5 385.7 Q284.5 384.5 285.7 384.5 L297.7 384.5 Q298.9 384.5 298.9 385.7 L298.9 391.6" stroke-width="0.85"/>
<line x1="298.5" y1="391.6" x2="298.5" y2="407.9" stroke-width="0.85"/>
<line x1="294.5" y1="391.6" x2="294.5" y2="400.7" stroke-width="0.7"/>
<polyline points="284.5,387.4 293.5,387.4 293.5,391.6 298.9,391.6" stroke-width="0.7"/>
<polyline points="298.9,400.7 293.5,400.7 293.5,404.4" stroke-width="0.7"/>
<line x1="284.5" y1="404.5" x2="298.9" y2="404.5"/>
<line x1="289.5" y1="395.5" x2="302" y2="395.5" stroke-width="0.4" stroke-dasharray="3 1 1 1"/>
<path d="M284.5 421.4 L284.5 440.1 Q284.5 441.3 285.7 441.3 L297.7 441.3 Q298.9 441.3 298.9 440.1 L298.9 434.2" stroke-width="0.85"/>
<line x1="298.5" y1="434.2" x2="298.5" y2="417.9" stroke-width="0.85"/>
<line x1="294.5" y1="434.2" x2="294.5" y2="425.1" stroke-width="0.7"/>
<polyline points="284.5,438.4 293.5,438.4 293.5,434.2 298.9,434.2" stroke-width="0.7"/>
<polyline points="298.9,425.1 293.5,425.1 293.5,421.4" stroke-width="0.7"/>
<line x1="284.5" y1="421.5" x2="298.9" y2="421.5"/>
<line x1="289.5" y1="429.5" x2="302" y2="429.5" stroke-width="0.4" stroke-dasharray="3 1 1 1"/>
<polyline points="298.9,407.9 279.8,407.9 274.4,412.9 279.8,417.9 298.9,417.9" stroke-width="0.75"/>
<line x1="279.5" y1="407.9" x2="279.5" y2="417.9" stroke-width="0.45"/>
<line x1="296.5" y1="407.9" x2="296.5" y2="417.9" stroke-width="0.5"/>
<path d="M271.5 421.4 Q269.2 416.9 270 412.9 Q270.8 408.9 271.5 404.4" stroke-width="0.5"/>
<line x1="219" y1="412.5" x2="305" y2="412.5" stroke-width="0.45" stroke-dasharray="9 1.5 1.5 1.5"/>
<!-- adapter_dims -->
<line x1="201.7" y1="404.5" x2="222.7" y2="404.5" stroke-width="0.55"/>
<line x1="201.7" y1="421.5" x2="222.7" y2="421.5" stroke-width="0.55"/>
<line x1="204.5" y1="369.7" x2="204.5" y2="421.4"/>
<polygon class="ah" points="204.1,404.4 205.35,409.2 202.85,409.2"/>
<polygon class="ah" points="204.1,421.4 202.85,416.6 205.35,416.6"/>
<text class="d" font-size="7.6" textLength="27.6" lengthAdjust="spacing" transform="translate(202.6 397.4) rotate(-90)">M6*1.0</text>
<line x1="265.5" y1="367.7" x2="265.5" y2="421.4"/>
<polygon class="ah" points="265.5,404.4 266.75,409.2 264.25,409.2"/>
<polygon class="ah" points="265.5,421.4 264.25,416.6 266.75,416.6"/>
<text class="d ds" transform="translate(263.9 394.2) rotate(-90) scale(1.2 1)" x="1.9 5.77" text-anchor="middle" font-size="7.6">ø6</text>
<text class="d ds" font-size="5.4" transform="translate(259.6 380.6) rotate(-90)">0</text>
<text class="d ds" transform="translate(263.8 383.2) rotate(-90) scale(1.2 1)" x="1.35 3.59 5.33 7.07 9.32" text-anchor="middle" font-size="5.4">-0.02</text>
<line x1="284.5" y1="374" x2="284.5" y2="384.4" stroke-width="0.55"/>
<line x1="293.5" y1="374" x2="293.5" y2="388" stroke-width="0.55"/>
<line x1="275.3" y1="376.5" x2="284.6" y2="376.5"/>
<line x1="293.3" y1="376.5" x2="317.6" y2="376.5"/>
<polygon class="ah" points="284.6,376.2 279.8,377.45 279.8,374.95"/>
<polygon class="ah" points="293.3,376.2 298.1,374.95 298.1,377.45"/>
<text class="d ds" transform="translate(305 375) scale(1.2 1)" x="1.9 4.79 7.68" text-anchor="middle" font-size="7.6">3.2</text>
<line x1="298.9" y1="407.5" x2="313.9" y2="407.5" stroke-width="0.55"/>
<line x1="298.9" y1="417.5" x2="313.9" y2="417.5" stroke-width="0.55"/>
<line x1="311.5" y1="387" x2="311.5" y2="407.9"/>
<polygon class="ah" points="311.6,407.9 310.35,403.1 312.85,403.1"/>
<polygon class="ah" points="311.6,417.9 312.85,422.7 310.35,422.7"/>
<line x1="311.5" y1="417.9" x2="311.5" y2="428"/>
<text class="d ds" transform="translate(310.4 397.6) rotate(-90) scale(1.2 1)" x="1.9 5.43" text-anchor="middle" font-size="7.6">ø4</text>
<line x1="298.9" y1="384.5" x2="329.8" y2="384.5" stroke-width="0.55"/>
<line x1="298.9" y1="441.5" x2="329.8" y2="441.5" stroke-width="0.55"/>
<line x1="328.5" y1="384.4" x2="328.5" y2="441.4"/>
<polygon class="ah" points="328,384.4 329.56,390.4 326.44,390.4"/>
<polygon class="ah" points="328,441.4 326.44,435.4 329.56,435.4"/>
<text class="d ds" transform="translate(326.6 412.9) rotate(-90) scale(1.2 1)" x="-3.6 0 3.6" text-anchor="middle" font-size="7.6">ø20</text>
<line x1="222.5" y1="421.4" x2="222.5" y2="466.5" stroke-width="0.55"/>
<line x1="262.5" y1="421.4" x2="262.5" y2="438.5" stroke-width="0.55"/>
<line x1="284.5" y1="441.4" x2="284.5" y2="451.5" stroke-width="0.55"/>
<line x1="298.5" y1="441.4" x2="298.5" y2="466.5" stroke-width="0.55"/>
<line x1="222.6" y1="436.5" x2="262.2" y2="436.5"/>
<polygon class="ah" points="222.6,436.3 227.4,434.74 227.4,437.86"/>
<polygon class="ah" points="262.2,436.3 257.4,437.86 257.4,434.74"/>
<text class="d ds" transform="translate(237.5 434.5) scale(1.2 1)" x="1.9 5.02" text-anchor="middle" font-size="7.6">14</text>
<line x1="222.6" y1="449.5" x2="284.6" y2="449.5"/>
<polygon class="ah" points="222.6,449 227.4,447.44 227.4,450.56"/>
<polygon class="ah" points="284.6,449 279.8,450.56 279.8,447.44"/>
<text class="d ds" transform="translate(249.2 447.5) scale(1.2 1)" x="1.9 5.85" text-anchor="middle" font-size="7.6">22</text>
<line x1="222.6" y1="463.5" x2="298.9" y2="463.5"/>
<polygon class="ah" points="222.6,463.8 227.4,462.24 227.4,465.36"/>
<polygon class="ah" points="298.9,463.8 294.1,465.36 294.1,462.24"/>
<text class="d ds" transform="translate(254.3 462.3) scale(1.2 1)" x="1.9 5.35" text-anchor="middle" font-size="7.6">27</text>
<line x1="266" y1="443.2" x2="283.4" y2="423.2"/>
<polygon class="ah" points="283.8,422.7 281.59,427.14 279.71,425.5"/>
<text class="d ds" transform="translate(267 440) rotate(-49) scale(1.2 1)" x="1.9 5.17 7.71 10.24 13.52" text-anchor="middle" font-size="7.6">R0.35</text>
<text class="cg" y="478"><tspan x="235" font-size="6.5" textLength="14" lengthAdjust="spacingAndGlyphs">截面</tspan><tspan x="249" font-size="7.8" textLength="26.2" lengthAdjust="spacingAndGlyphs">/Section</tspan></text>
<text class="dl" x="275.8" y="478.2" font-size="8" textLength="15.4" lengthAdjust="spacingAndGlyphs">A−A</text>
<!-- adfront -->
<circle cx="379.6" cy="412.8" r="28.6" stroke-width="0.95"/>
<circle cx="379.6" cy="412.8" r="17" stroke-width="0.45" stroke-dasharray="4 1.2 1 1.2"/>
<circle cx="396.6" cy="412.8" r="8" stroke-width="0.95" fill="#fff"/>
<circle cx="396.6" cy="412.8" r="4.6" stroke-width="0.9"/>
<circle cx="379.6" cy="429.8" r="8" stroke-width="0.95" fill="#fff"/>
<circle cx="379.6" cy="429.8" r="4.6" stroke-width="0.9"/>
<circle cx="362.6" cy="412.8" r="8" stroke-width="0.95" fill="#fff"/>
<circle cx="362.6" cy="412.8" r="4.6" stroke-width="0.9"/>
<circle cx="379.6" cy="395.8" r="8" stroke-width="0.95" fill="#fff"/>
<circle cx="379.6" cy="395.8" r="4.6" stroke-width="0.9"/>
<circle cx="379.6" cy="412.8" r="7.9" stroke-width="0.8" fill="#fff"/>
<circle cx="379.6" cy="412.8" r="6.9" stroke-width="0.8"/>
<circle cx="379.6" cy="412.8" r="5.3" stroke-width="0.9"/>
<line x1="346.6" y1="412.5" x2="412.6" y2="412.5" stroke-width="0.45" stroke-dasharray="9 1.5 1.5 1.5"/>
<line x1="379.5" y1="371.2" x2="379.5" y2="454.4" stroke-width="0.5" stroke-dasharray="9 1.5 1.5 1.5"/>
<polyline points="368.3,371.3 379.6,371.3 379.6,378.3" stroke-width="0.75"/>
<polyline points="366.6,454.4 379.6,454.4 379.6,448" stroke-width="0.75"/>
<text class="d" x="372.2" y="367.6" font-size="9">A</text>
<text class="d" x="372.2" y="464.6" font-size="9">A</text>
<!-- adfront_dims -->
<text class="d ds" transform="translate(341.7 379.8) scale(1.2 1)" x="1.9 6.1 10.3 14.5 17.76 21.02" text-anchor="middle" font-size="7.6">4-ø3.2</text>
<line x1="340.6" y1="381.5" x2="370" y2="381.5"/>
<line x1="370" y1="381.4" x2="377.05" y2="391.97"/>
<polygon class="ah" points="377.05,391.97 373.35,388.67 375.43,387.29"/>
<line x1="377.05" y1="391.97" x2="382.15" y2="399.63" stroke-width="0.45"/>
<polygon class="ah" points="382.15,399.63 385.85,402.93 383.77,404.31"/>
<line x1="382.15" y1="399.63" x2="386.03" y2="405.45"/>
<text class="d ds" transform="translate(397.5 379.8) scale(1.2 1)" x="1.9 6.1 10.3 14.5 17.76 21.02" text-anchor="middle" font-size="7.6">4-ø5.7</text>
<line x1="395.4" y1="381.5" x2="424.6" y2="381.5"/>
<line x1="395.4" y1="381.4" x2="385.59" y2="390.34"/>
<polygon class="ah" points="385.59,390.34 388.29,386.19 389.98,388.03"/>
<line x1="385.59" y1="390.34" x2="373.61" y2="401.26" stroke-width="0.45"/>
<polygon class="ah" points="373.61,401.26 370.91,405.41 369.22,403.57"/>
<line x1="373.61" y1="401.26" x2="368.44" y2="405.97"/>
<text class="d ds" transform="translate(406.4 440.8) scale(1.2 1)" x="1.9 5.83 9.77" text-anchor="middle" font-size="7.6">ø12</text>
<line x1="405" y1="442.5" x2="420.4" y2="442.5"/>
<line x1="405" y1="442.3" x2="390.69" y2="425.68"/>
<polygon class="ah" points="390.69,425.68 394.77,428.5 392.88,430.14"/>
<line x1="390.69" y1="425.68" x2="368.51" y2="399.92" stroke-width="0.45"/>
<polygon class="ah" points="368.51,399.92 364.43,397.1 366.32,395.46"/>
<line x1="368.51" y1="399.92" x2="363.94" y2="394.61"/>
<!-- secb -->
<g clip-path="url(#csecb)" stroke-width="0.8">
<path d="M394 442L453 383M396.7 442L455.7 383M399.4 442L458.4 383M402.1 442L461.1 383M404.8 442L463.8 383M407.5 442L466.5 383M410.2 442L469.2 383M412.9 442L471.9 383M415.6 442L474.6 383M418.3 442L477.3 383M421 442L480 383M423.7 442L482.7 383M426.4 442L485.4 383M429.1 442L488.1 383M431.8 442L490.8 383M434.5 442L493.5 383M437.2 442L496.2 383M439.9 442L498.9 383M442.6 442L501.6 383M445.3 442L504.3 383M448 442L507 383M450.7 442L509.7 383M453.4 442L512.4 383M456.1 442L515.1 383M458.8 442L517.8 383M461.5 442L520.5 383"/>
</g>
<path d="M455 384.6 L461.6 384.6 Q462.8 384.6 462.8 385.8 L462.8 440.2 Q462.8 441.4 461.6 441.4 L455 441.4 Z" stroke-width="0.95"/>
<line x1="455" y1="391.5" x2="462.8" y2="391.5" stroke-width="0.75"/>
<line x1="455" y1="434.5" x2="462.8" y2="434.5" stroke-width="0.75"/>
<line x1="455" y1="400.5" x2="462.8" y2="400.5" stroke-width="0.75"/>
<line x1="455" y1="407.5" x2="462.8" y2="407.5" stroke-width="0.75"/>
<line x1="455" y1="418.5" x2="462.8" y2="418.5" stroke-width="0.75"/>
<line x1="455" y1="425.5" x2="462.8" y2="425.5" stroke-width="0.75"/>
<line x1="456.5" y1="384.6" x2="456.5" y2="441.4" stroke-width="0.45"/>
<line x1="452" y1="396.5" x2="466" y2="396.5" stroke-width="0.45" stroke-dasharray="4 1 1 1"/>
<line x1="452" y1="413.5" x2="466" y2="413.5" stroke-width="0.45" stroke-dasharray="4 1 1 1"/>
<line x1="452" y1="430.5" x2="466" y2="430.5" stroke-width="0.45" stroke-dasharray="4 1 1 1"/>
<!-- secb_dims -->
<text class="d ds" transform="translate(450.4 378.3) scale(1.2 1)" x="1.9 4.46 7.02" text-anchor="middle" font-size="7.6">0.5</text>
<line x1="446.2" y1="379.5" x2="455" y2="379.5"/>
<line x1="456.3" y1="379.5" x2="462" y2="379.5"/>
<polygon class="ah" points="455,379.6 451.4,380.48 451.4,378.73"/>
<polygon class="ah" points="456.3,379.6 459.9,378.73 459.9,380.48"/>
<line x1="455.5" y1="377.4" x2="455.5" y2="384.6" stroke-width="0.5"/>
<line x1="456.5" y1="377.4" x2="456.5" y2="384.6" stroke-width="0.5"/>
<line x1="435.5" y1="384.5" x2="455" y2="384.5" stroke-width="0.55"/>
<line x1="435.5" y1="441.5" x2="455" y2="441.5" stroke-width="0.55"/>
<line x1="438.5" y1="384.6" x2="438.5" y2="441.4"/>
<polygon class="ah" points="438.3,384.6 439.86,390.6 436.74,390.6"/>
<polygon class="ah" points="438.3,441.4 436.74,435.4 439.86,435.4"/>
<text class="d ds" transform="translate(437 412.7) rotate(-90) scale(1.2 1)" x="-3.93 0 3.93" text-anchor="middle" font-size="7.6">ø20</text>
<line x1="447.6" y1="407.5" x2="455" y2="407.5" stroke-width="0.55"/>
<line x1="447.6" y1="418.5" x2="455" y2="418.5" stroke-width="0.55"/>
<line x1="449.5" y1="397.3" x2="449.5" y2="407.3"/>
<polygon class="ah" points="449.2,407.3 447.95,402.5 450.45,402.5"/>
<polygon class="ah" points="449.2,418.7 450.45,423.5 447.95,423.5"/>
<line x1="449.5" y1="418.7" x2="449.5" y2="428"/>
<text class="d ds" transform="translate(447.4 413.2) rotate(-90) scale(1.2 1)" x="-1.6 1.6" text-anchor="middle" font-size="7.6">ø4</text>
<line x1="455.5" y1="441.4" x2="455.5" y2="453" stroke-width="0.55"/>
<line x1="462.5" y1="441.4" x2="462.5" y2="453" stroke-width="0.55"/>
<line x1="446" y1="450.5" x2="455" y2="450.5"/>
<line x1="462.8" y1="450.5" x2="486" y2="450.5"/>
<polygon class="ah" points="455,450.6 450.2,451.85 450.2,449.35"/>
<polygon class="ah" points="462.8,450.6 467.6,449.35 467.6,451.85"/>
<text class="d ds" transform="translate(473.6 449.4) scale(1.2 1)" x="1.9 4.83 7.77" text-anchor="middle" font-size="7.6">2.5</text>
<text class="cg" y="464.6"><tspan x="435.3" font-size="6.5" textLength="13.1" lengthAdjust="spacingAndGlyphs">截面</tspan><tspan x="448.4" font-size="7.8" textLength="24.2" lengthAdjust="spacingAndGlyphs">/Section</tspan></text>
<text class="dl" x="473.8" y="464.8" font-size="8.2" textLength="17" lengthAdjust="spacingAndGlyphs">B−B</text>
<!-- bfront -->
<circle cx="517.5" cy="413" r="28.7" stroke-width="0.95"/>
<circle cx="517.5" cy="396" r="8.2" stroke-width="0.95"/>
<circle cx="517.5" cy="396" r="4.6" stroke-width="0.9"/>
<circle cx="517.5" cy="430" r="8.2" stroke-width="0.95"/>
<circle cx="517.5" cy="430" r="4.6" stroke-width="0.9"/>
<circle cx="517.5" cy="413" r="6.4" stroke-width="0.95"/>
<line x1="484.5" y1="413.5" x2="550.5" y2="413.5" stroke-width="0.45" stroke-dasharray="9 1.5 1.5 1.5"/>
<line x1="517.5" y1="371" x2="517.5" y2="453.4" stroke-width="0.5" stroke-dasharray="9 1.5 1.5 1.5"/>
<polyline points="505.3,370.6 517.5,370.6 517.5,378.3" stroke-width="0.75"/>
<polyline points="504.5,453.2 517.5,453.2 517.5,447" stroke-width="0.75"/>
<text class="d" x="509.6" y="366.6" font-size="9">B</text>
<text class="d" x="509.6" y="462.6" font-size="9">B</text>
<!-- bfront_dims -->
<text class="d ds" transform="translate(476.7 380.4) scale(1.2 1)" x="1.9 5.94 9.97 14.01 17.14 20.27" text-anchor="middle" font-size="7.6">2-ø5.8</text>
<line x1="476.4" y1="382.5" x2="504.4" y2="382.5"/>
<line x1="504.4" y1="382" x2="511.9" y2="390.01"/>
<polygon class="ah" points="511.9,390.01 507.71,387.36 509.53,385.65"/>
<line x1="511.9" y1="390.01" x2="523.1" y2="401.99" stroke-width="0.45"/>
<polygon class="ah" points="523.1,401.99 527.29,404.64 525.47,406.35"/>
<line x1="523.1" y1="401.99" x2="527.2" y2="406.37"/>
<text class="d ds" transform="translate(531.3 380.4) scale(1.2 1)" x="1.9 5.86 9.83 13.79 16.86 19.93" text-anchor="middle" font-size="7.6">2-ø3.2</text>
<line x1="530" y1="382.5" x2="557.8" y2="382.5"/>
<line x1="530" y1="382" x2="520.56" y2="392.57"/>
<polygon class="ah" points="520.56,392.57 522.83,388.16 524.69,389.82"/>
<line x1="520.56" y1="392.57" x2="514.44" y2="399.43" stroke-width="0.45"/>
<polygon class="ah" points="514.44,399.43 512.17,403.84 510.31,402.18"/>
<line x1="514.44" y1="399.43" x2="508.44" y2="406.14"/>
<line x1="526.1" y1="396.5" x2="561" y2="396.5" stroke-width="0.55"/>
<line x1="526.1" y1="430.5" x2="561" y2="430.5" stroke-width="0.55"/>
<line x1="558.5" y1="396" x2="558.5" y2="430"/>
<polygon class="ah" points="558.9,396 560.46,401.6 557.34,401.6"/>
<polygon class="ah" points="558.9,430 557.34,424.4 560.46,424.4"/>
<text class="d ds" transform="translate(557.4 413) rotate(-90) scale(1.2 1)" x="-1.93 1.93" text-anchor="middle" font-size="7.6">12</text>
</g>
</svg>
</body></html>
